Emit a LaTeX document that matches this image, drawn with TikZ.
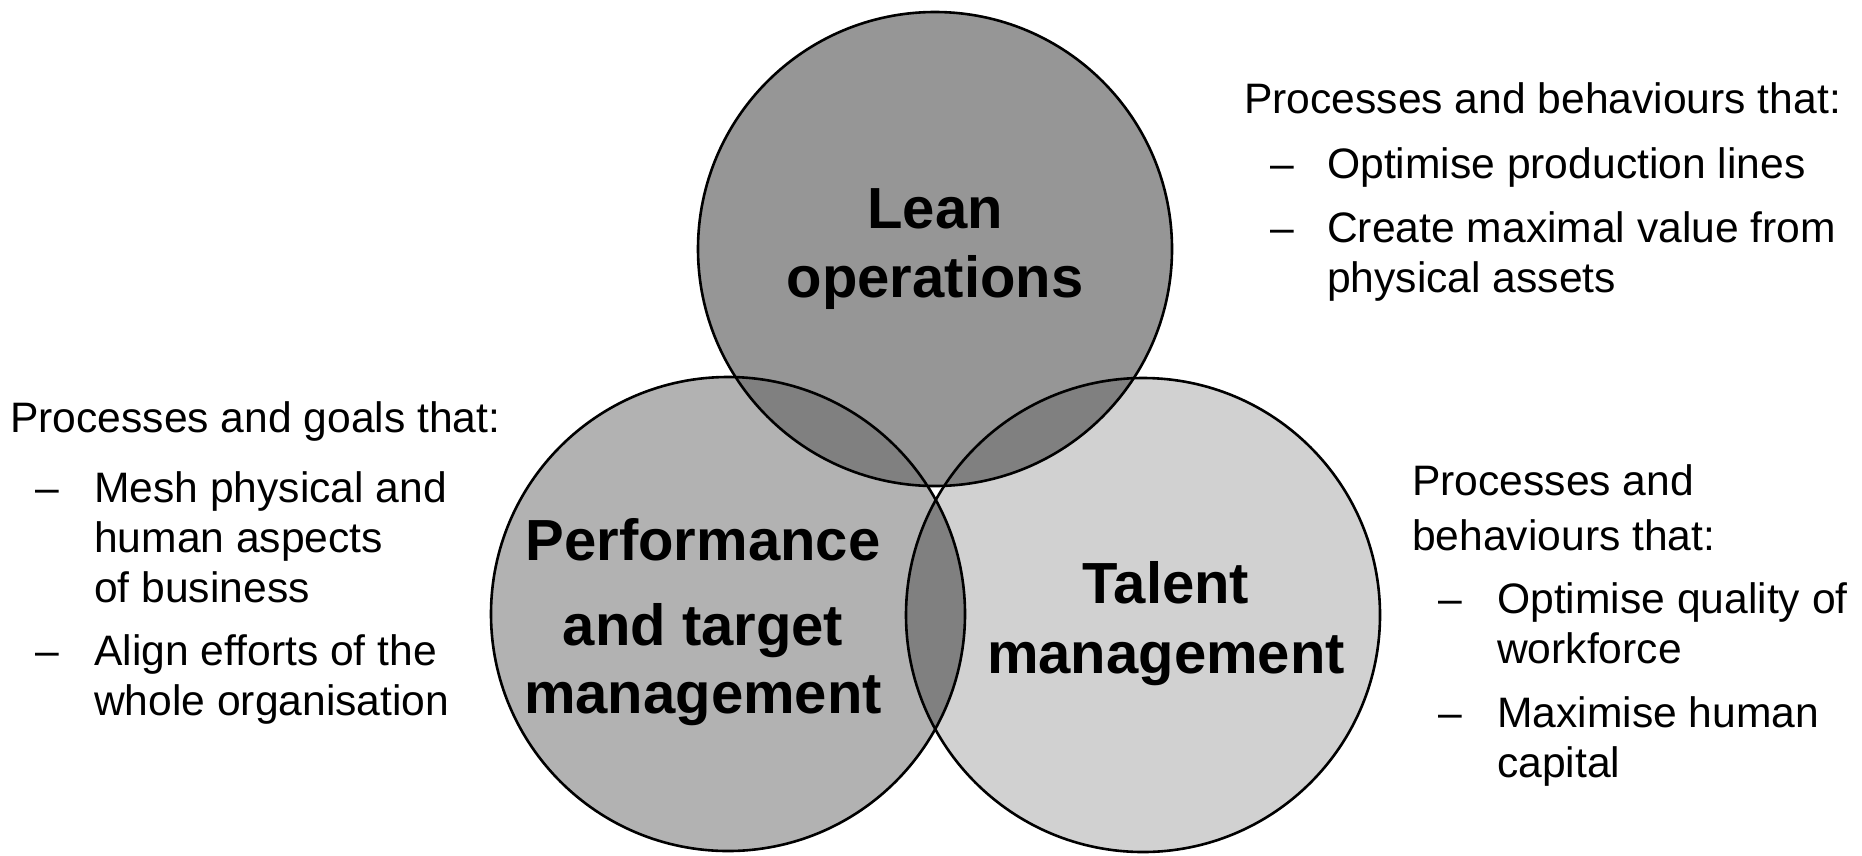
\documentclass[tikz,border=0pt]{standalone}
\usepackage{fontspec}
\setmainfont{Liberation Sans}
\definecolor{topc}{gray}{0.588}
\definecolor{leftc}{gray}{0.698}
\definecolor{rightc}{gray}{0.82}
\definecolor{lensc}{gray}{0.50}
\tikzset{
  body/.style={font=\fontsize{42.6}{50}\selectfont, anchor=base west, inner sep=0pt},
  label/.style={font=\bfseries\fontsize{58}{69}\selectfont, anchor=base, inner sep=0pt},
  ring/.style={draw=black, line width=2.6pt}
}
\begin{document}
\begin{tikzpicture}[x=1pt,y=-1pt]
\fill[white] (0,0) rectangle (1862,855);
\useasboundingbox (0,0) rectangle (1862,855);
\coordinate (T) at (935,249);
\coordinate (L) at (728,614);
\coordinate (R) at (1143,615);
% circle fills
\fill[topc] (T) circle (237pt);
\fill[leftc] (L) circle (237pt);
\fill[rightc] (R) circle (237pt);
% lens fills
\begin{scope}
  \clip (T) circle (237pt);
  \fill[lensc] (L) circle (237pt);
  \fill[lensc] (R) circle (237pt);
\end{scope}
\begin{scope}
  \clip (L) circle (237pt);
  \fill[lensc] (R) circle (237pt);
\end{scope}
% outlines
\draw[ring] (T) circle (237pt);
\draw[ring] (L) circle (237pt);
\draw[ring] (R) circle (237pt);
% circle labels
\node[label] (lean1) at (935,228) {Lean};
\node[label] (lean2) at (935,297) {operations};
\node[label] (perf1) at (703,560) {Performance};
\node[label] (perf2) at (703,645) {and target};
\node[label] (perf3) at (703,713) {management};
\node[label] (tal1) at (1166,603) {Talent};
\node[label] (tal2) at (1166,673) {management};
% left text
\node[body] (lh) at (10,432) {Processes and goals that:};
\node[body] (ld1) at (35,502) {–};
\node[body] (l1) at (94,502) {Mesh physical and};
\node[body] (l2) at (94,552) {human aspects};
\node[body] (l3) at (94,602) {of business};
\node[body] (ld2) at (35,665) {–};
\node[body] (l4) at (94,665) {Align efforts of the};
\node[body] (l5) at (94,715) {whole organisation};
% right top text
\node[body] (th) at (1244,113) {Processes and behaviours that:};
\node[body] (td1) at (1270,178) {–};
\node[body] (t1) at (1327,178) {Optimise production lines};
\node[body] (td2) at (1270,242) {–};
\node[body] (t2) at (1327,242) {Create maximal value from};
\node[body] (t3) at (1327,292) {physical assets};
% right bottom text
\node[body] (rh1) at (1412,495) {Processes and};
\node[body] (rh2) at (1412,550) {behaviours that:};
\node[body] (rd1) at (1438,613) {–};
\node[body] (r1) at (1497,613) {Optimise quality of};
\node[body] (r2) at (1497,663) {workforce};
\node[body] (rd2) at (1438,727) {–};
\node[body] (r3) at (1497,727) {Maximise human};
\node[body] (r4) at (1497,777) {capital};
\end{tikzpicture}
\end{document}
